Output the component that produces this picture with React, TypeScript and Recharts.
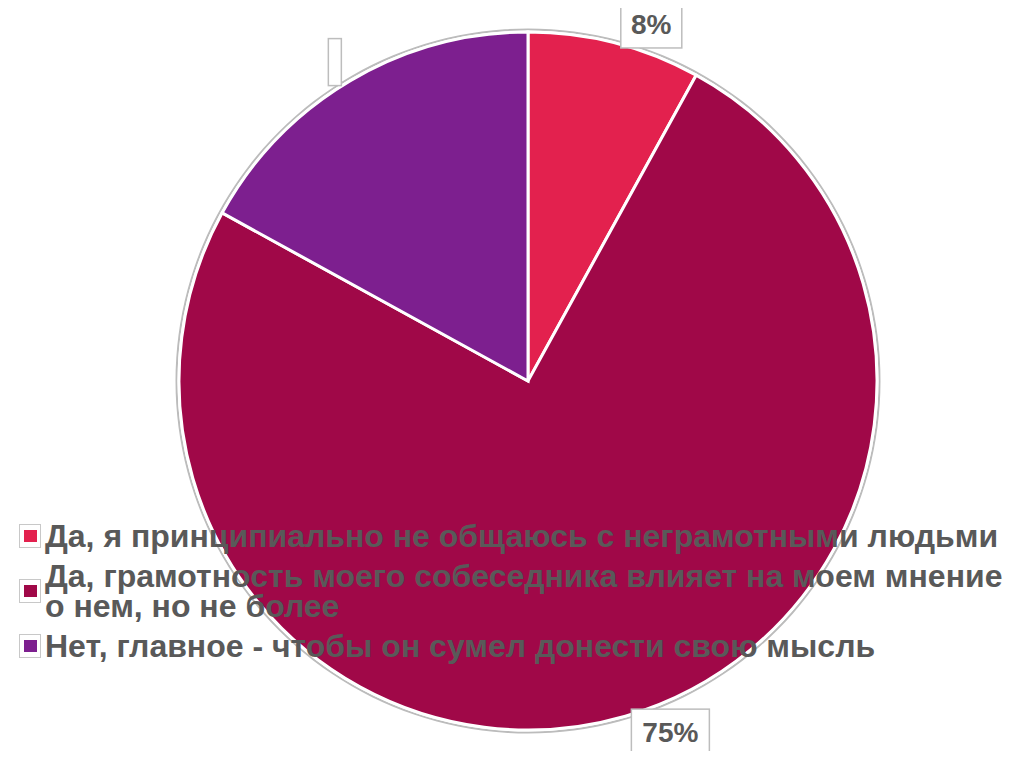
import React from "react";
import { PieChart, Pie, Cell, Legend } from "recharts";

const categories = [
  "Да, я принципиально не общаюсь с неграмотными людьми",
  "Да, грамотность моего собеседника влияет на моем мнение о нем, но не более",
  "Нет, главное - чтобы он сумел донести свою мысль",
];
const values = [8, 75, 17];
const labelTexts = ["8%", "75%", ""];
const colors = ["#E3214E", "#A00848", "#7D1F8F"];

const data = categories.map((name, i) => ({ name, value: values[i], label: labelTexts[i] }));
const ring = [{ name: "ring", value: 1 }];

const RAD = Math.PI / 180;

const renderLabel = (props: any) => {
  const { cx, cy, midAngle, outerRadius, index } = props;
  const text = labelTexts[index];
  const ax = cx + outerRadius * Math.cos(-midAngle * RAD);
  const ay = cy + outerRadius * Math.sin(-midAngle * RAD);
  const fs = 28;
  const w = text ? text.length * 17 + 27 : 13;
  const h = 47;
  const right = ax >= cx;
  const below = ay >= cy;
  const x = right ? ax + 6 : ax - 9 - w;
  const y = below ? ay - 7 : ay + 5 - h;
  return (
    <g>
      <rect x={x} y={y} width={w} height={h} fill="#ffffff" stroke="#bdbdbd" strokeWidth={1.5} />
      {text ? (
        <text
          x={x + w / 2}
          y={y + h / 2}
          textAnchor="middle"
          dominantBaseline="central"
          fontFamily="'Liberation Sans', Arial, sans-serif"
          fontWeight="bold"
          fontSize={fs}
          fill="#595959"
        >
          {text}
        </text>
      ) : null}
    </g>
  );
};

const renderLegend = () => (
  <div
    style={{
      fontFamily: "'Liberation Sans', Arial, sans-serif",
      fontWeight: "bold",
      fontSize: 32,
      color: "#595959",
      width: 1005,
    }}
  >
    {data.map((d, i) => (
      <div
        key={d.name}
        style={{
          display: "flex",
          alignItems: "center",
          marginBottom: 10,
          lineHeight: "30px",
        }}
      >
        <div
          style={{
            width: 20,
            height: 22,
            border: "1.5px solid #c8c8c8",
            background: "#fff",
            display: "flex",
            alignItems: "center",
            justifyContent: "center",
            flex: "0 0 auto",
            marginRight: 4,
          }}
        >
          <div style={{ width: 13, height: 12, background: colors[i] }} />
        </div>
        <span>{d.name}</span>
      </div>
    ))}
  </div>
);

export default function App() {
  return (
    <div style={{ margin: -8, width: 1030, height: 759, background: "#fff", overflow: "hidden" }}>
      <PieChart width={1030} height={759} margin={{ top: 0, right: 0, bottom: 0, left: 0 }}>
        <Pie
          data={ring}
          dataKey="value"
          cx={528}
          cy={381}
          innerRadius={350.5}
          outerRadius={352.5}
          startAngle={90}
          endAngle={-270}
          stroke="none"
          fill="#bcbcbc"
          isAnimationActive={false}
        />
        <Pie
          data={data}
          dataKey="value"
          nameKey="name"
          cx={528}
          cy={381}
          outerRadius={349}
          startAngle={90}
          endAngle={-270}
          stroke="#ffffff"
          strokeWidth={3}
          label={renderLabel}
          labelLine={false}
          isAnimationActive={false}
        >
          {data.map((d, i) => (
            <Cell key={d.name} fill={colors[i]} />
          ))}
        </Pie>
        <Legend
          content={renderLegend}
          layout="horizontal"
          verticalAlign="bottom"
          align="left"
          wrapperStyle={{ position: "absolute", left: 19, top: 521, width: 1010, height: 150 }}
        />
      </PieChart>
    </div>
  );
}
